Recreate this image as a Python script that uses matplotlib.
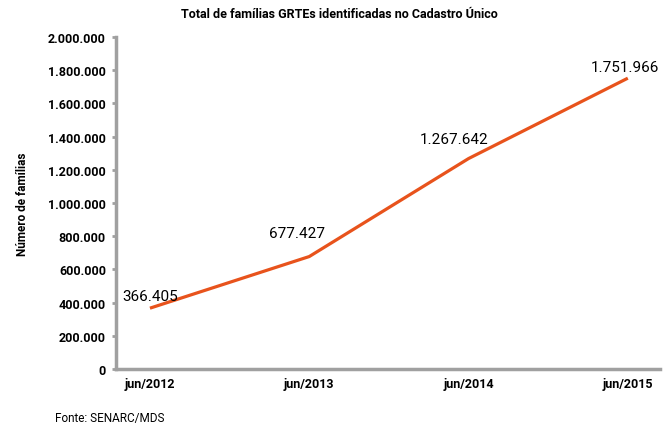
import matplotlib.pyplot as plt
from matplotlib.ticker import FuncFormatter

plt.rcParams['font.family'] = ['Roboto', 'DejaVu Sans']

# dados
categorias = ['jun/2012', 'jun/2013', 'jun/2014', 'jun/2015']
familias = [366405, 677427, 1267642, 1751966]
rotulos = ['366.405', '677.427', '1.267.642', '1.751.966']
y_ticks = [0, 200000, 400000, 600000, 800000, 1000000, 1200000, 1400000,
           1600000, 1800000, 2000000]


def fmt_milhar(v, pos=None):
    return '{:,.0f}'.format(v).replace(',', '.')


fig = plt.figure(figsize=(6.65, 4.27), dpi=100)
ax = fig.add_axes([0.174, 0.1335, 0.818, 0.7775])

x = list(range(len(categorias)))
ax.plot(x, familias, color='#E8531C', linewidth=2.3, solid_capstyle='butt')

# rótulos dos valores
deslocamentos = [(0.0, 75000), (-0.08, 140000), (-0.09, 120000), (-0.02, 65000)]
for xi, yi, txt, (dx, dy) in zip(x, familias, rotulos, deslocamentos):
    ax.text(xi + dx, yi + dy, txt, ha='center', va='center', fontsize=11)

ax.set_xlim(-0.215, 3.2)
ax.set_ylim(0, 2000000)
ax.set_xticks(x)
ax.set_xticklabels(categorias, fontweight='bold', fontsize=9)
ax.set_yticks(y_ticks)
ax.yaxis.set_major_formatter(FuncFormatter(fmt_milhar))
for lbl in ax.get_yticklabels():
    lbl.set_fontweight('bold')
    lbl.set_fontsize(9)

ax.tick_params(axis='y', length=3, width=2, color='#A0A0A0', pad=4)
ax.tick_params(axis='x', length=0, pad=6)

for s in ['top', 'right']:
    ax.spines[s].set_visible(False)
for s in ['left', 'bottom']:
    ax.spines[s].set_color('#A0A0A0')
    ax.spines[s].set_linewidth(2.5)

ax.set_ylabel('Número de famílias', fontweight='bold', fontsize=8.5)
ax.yaxis.set_label_coords(-0.16, 0.5)

fig.text(0.51, 0.965, 'Total de famílias GRTEs identificadas no Cadastro Único',
         ha='center', va='center', fontweight='bold', fontsize=9)
fig.text(0.083, 0.02, 'Fonte: SENARC/MDS', ha='left', va='center', fontsize=8.5)

fig.savefig('out.png', dpi=100)
